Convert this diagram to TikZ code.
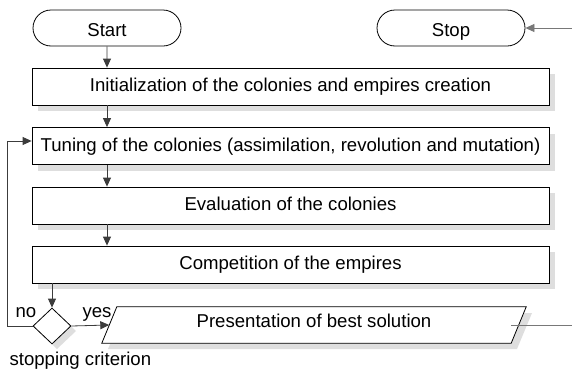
\documentclass[tikz,border=0pt]{standalone}
\usepackage{fontspec}
\setmainfont{Liberation Sans}
\usetikzlibrary{arrows.meta,shapes.geometric,shapes.misc}
\definecolor{shade1}{RGB}{222,222,222}
\definecolor{line1}{RGB}{60,60,60}
\definecolor{line2}{RGB}{120,120,120}

\begin{document}
\begin{tikzpicture}[x=1pt, y=-1pt, every node/.style={font=\fontsize{18.6}{22}\selectfont},
  term/.style={draw, line width=0.8pt, rounded rectangle, minimum width=148pt, minimum height=36pt,
    inner sep=0pt, text height=16pt, text depth=0pt},
  stage/.style={draw, line width=0.8pt, fill=white, minimum width=517pt, minimum height=37pt,
    inner sep=0pt, text height=13pt, text depth=3pt},
  flow/.style={line1, line width=0.8pt, -{Triangle[length=9pt, width=8pt]}}]

\path[use as bounding box] (0,0) rectangle (572,370);

% SHADOWS
\foreach \sy in {74,133.5,193,252}
  \fill[shade1] (38,\sy) rectangle (555,\sy+37);
\fill[shade1] (57,313) -- (76,331) -- (57,349) -- (38,331) -- cycle;
\fill[shade1] (123,313) -- (532,313) -- (517,349) -- (108,349) -- cycle;

% TERMINALS
\node[term] (start) at (107,28) {Start};
\node[term] (stop) at (451,28) {Stop};

% STAGES
\node[stage] (init) at (290.5,86.5) {Initialization of the colonies and empires creation};
\node[stage] (tuning) at (290.5,146) {Tuning of the colonies (assimilation, revolution and mutation)};
\node[stage] (eval) at (290.5,205.5) {Evaluation of the colonies};
\node[stage] (comp) at (290.5,264.5) {Competition of the empires};

% decision and output
\node[draw, line width=0.8pt, fill=white, diamond, minimum width=38pt, minimum height=36pt,
  inner sep=0pt] (dec) at (52,326) {};
\node[minimum width=409pt, minimum height=36pt, inner sep=0pt, text height=11pt, text depth=7pt]
  (pres) at (314,325) {};
\draw[line width=0.8pt, fill=white] ([xshift=7.5pt]pres.north west) -- ([xshift=7.5pt]pres.north east)
  -- ([xshift=-7.5pt]pres.south east) -- ([xshift=-7.5pt]pres.south west) -- cycle;
\node[text height=11pt, text depth=7pt, inner sep=0pt] at (pres) {Presentation of best solution};

\node[anchor=base west] (no) at (12,317) {no};
\node[anchor=base west] (yes) at (79,317) {yes};
\node[anchor=base west] (crit) at (6,365) {stopping criterion};

% ARROWS
\draw[flow] (start) -- (start |- init.north);
\draw[flow] (init.south -| start) -- (start |- tuning.north);
\draw[flow] (tuning.south -| start) -- (start |- eval.north);
\draw[flow] (eval.south -| start) -- (start |- comp.north);
\draw[flow] (comp.south -| dec) -- (dec.north);
\draw[flow] (dec.east) -- (pres.west);
\draw[flow] (dec.west) -- ++(-25,0) |- ([yshift=5pt]tuning.west);
\coordinate (edge) at (572,325);
\draw[line2, line width=0.8pt] ([xshift=-7.5pt]pres.east) -- (edge);
\draw[flow, line2] (stop.east -| edge) -- (stop.east);

\end{tikzpicture}
\end{document}
